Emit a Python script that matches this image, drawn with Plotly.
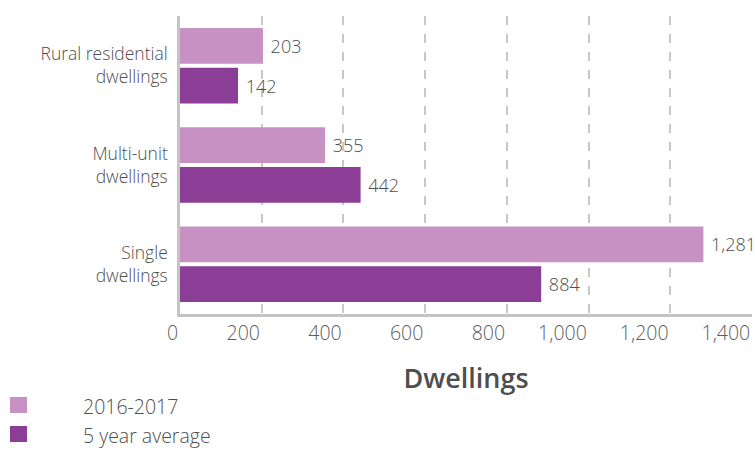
import plotly.graph_objects as go

categories = ["Rural residential<br>dwellings", "Multi-unit<br>dwellings", "Single<br>dwellings"]
series_names = ["2016-2017", "5 year average"]
values_2016_2017 = [203, 355, 1281]
values_5yr_avg = [142, 442, 884]
x_ticks = [0, 200, 400, 600, 800, 1000, 1200, 1400]
x_tick_labels = ["0", "200", "400", "600", "800", "1,000", "1,200", "1,400"]

colors = ["#C891C3", "#8C3D96"]
font_family = "'Open Sans', Lato, sans-serif"
text_color = "#4e4e4e"
light = dict(family=font_family, weight=300)

fig = go.Figure()
for name, vals, col in zip(series_names, [values_2016_2017, values_5yr_avg], colors):
    fig.add_trace(go.Bar(
        y=categories, x=vals, name=name, orientation="h",
        marker=dict(color=col, line=dict(width=0)),
        text=[f" {v:,}" for v in vals], textposition="outside",
        textfont=dict(size=18, color=text_color, **light),
        cliponaxis=False, showlegend=False,
    ))

fig.update_layout(
    barmode="group", bargap=0.2, bargroupgap=0.1,
    width=755, height=449,
    margin=dict(l=180, r=3, t=16, b=135),
    plot_bgcolor="white", paper_bgcolor="white",
    font=dict(family=font_family, color=text_color),
    xaxis=dict(
        range=[0, 1400], tickvals=x_ticks, ticktext=x_tick_labels,
        showgrid=True, gridcolor="#c8c8c8", griddash="dash", gridwidth=1.5,
        zeroline=False, showline=True, linecolor="#c4c4c4", linewidth=2.5,
        ticks="outside", ticklen=8, tickcolor="rgba(0,0,0,0)",
        ticklabelposition="outside left",
        tickfont=dict(size=19.5, color="#5e5e5e", **light),
        title=dict(text="Dwellings", font=dict(size=27, color=text_color, family=font_family, weight=600),
                   standoff=24),
    ),
    yaxis=dict(
        autorange="reversed", showline=True, linecolor="#c4c4c4", linewidth=2.5,
        showgrid=False, ticks="", ticklabelstandoff=6,
        tickfont=dict(size=17.5, color=text_color, **light),
    ),
)

# Legend drawn as swatches with labels beneath the chart
plot_left, plot_w, plot_bottom, plot_h = 180, 572, 314, 298
legend_y = [406, 435]
for name, col, yc in zip(series_names, colors, legend_y):
    fig.add_shape(type="rect", xref="paper", yref="paper",
                  x0=(10 - plot_left) / plot_w, x1=(27 - plot_left) / plot_w,
                  y0=(plot_bottom - (yc + 7)) / plot_h, y1=(plot_bottom - (yc - 9)) / plot_h,
                  fillcolor=col, line=dict(width=0))
    fig.add_annotation(text=name, xref="paper", yref="paper",
                       x=(81 - plot_left) / plot_w, y=(plot_bottom - yc) / plot_h,
                       xanchor="left", yanchor="middle", showarrow=False,
                       font=dict(size=19.5, color=text_color, **light))

fig.write_html("out.html")
